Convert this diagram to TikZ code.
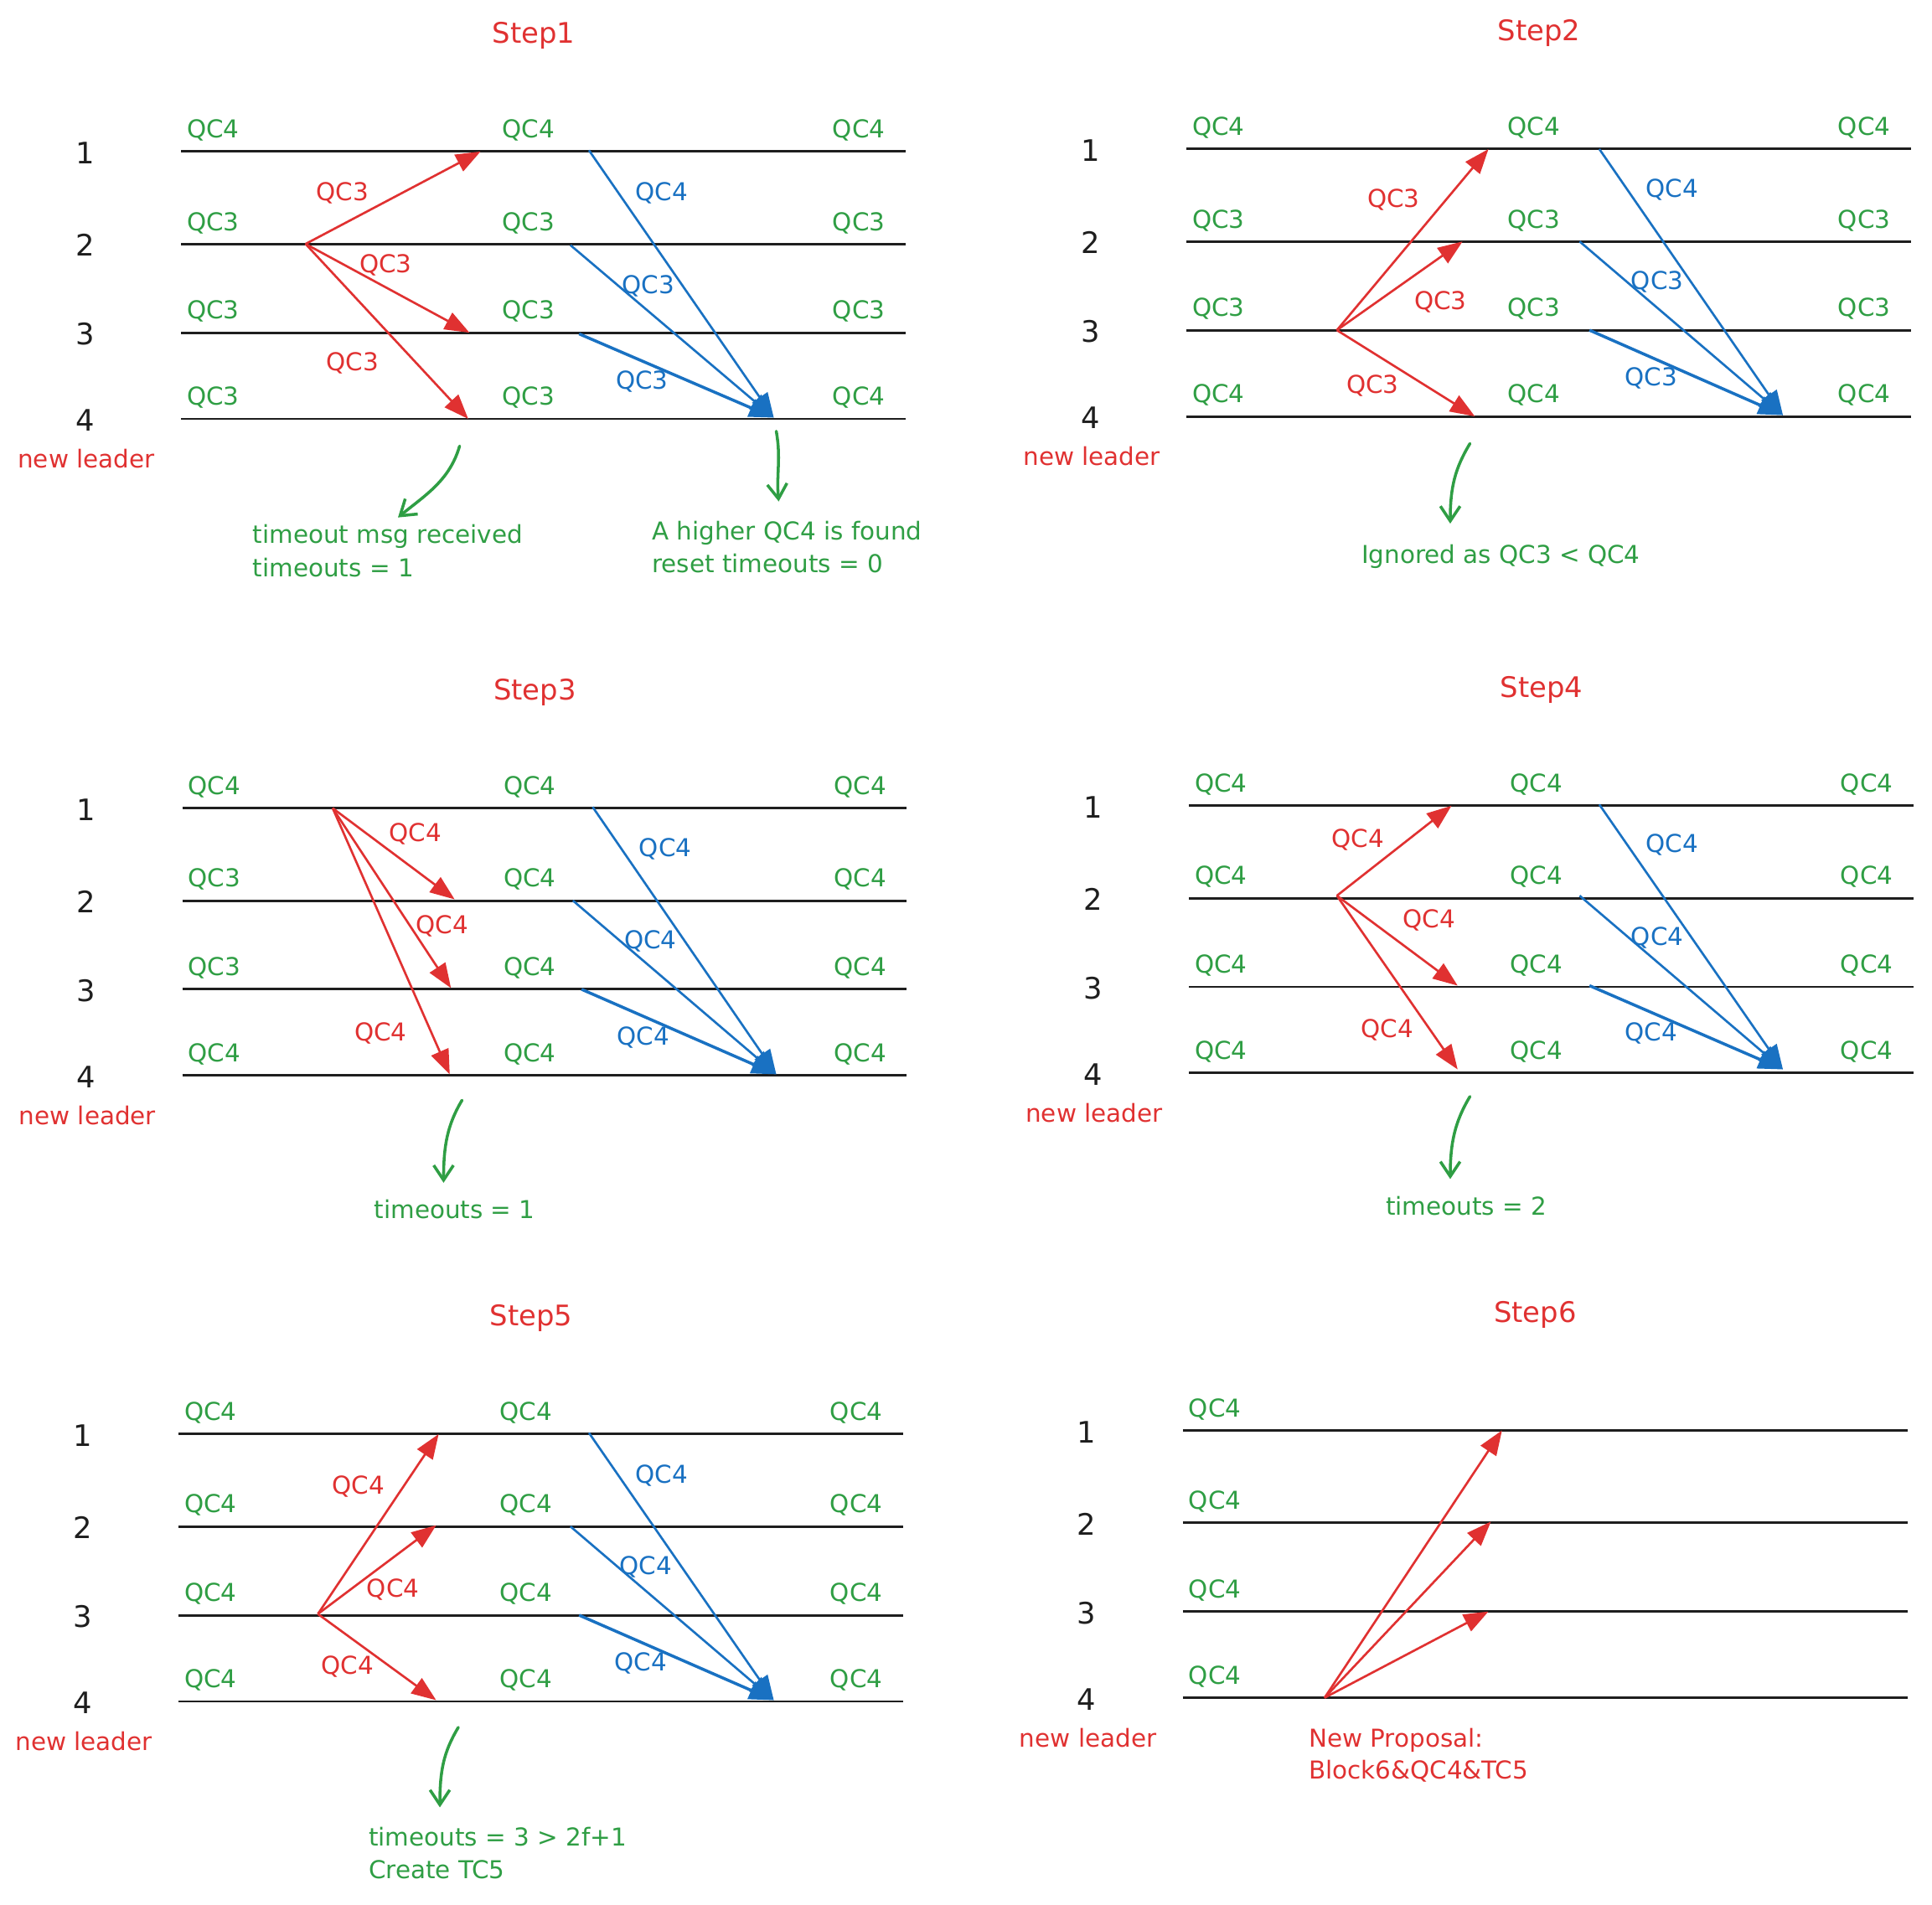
\documentclass[tikz,border=0pt]{standalone}
\usepackage{fontspec}
\setmainfont{DejaVu Sans}
\usetikzlibrary{arrows.meta}

\definecolor{stepred}{HTML}{E03131}
\definecolor{stepgreen}{HTML}{2F9E44}
\definecolor{stepblue}{HTML}{1971C2}
\definecolor{inkblack}{HTML}{1E1E1E}

\tikzset{
  lane/.style={draw=inkblack, line width=2pt},
  rownum/.style={text=inkblack, font=\fontsize{24}{28}\selectfont, inner sep=0pt, anchor=base},
  titletext/.style={text=stepred, font=\fontsize{23}{28}\selectfont, inner sep=0pt, anchor=base},
  leadertext/.style={text=stepred, font=\fontsize{20}{24}\selectfont, inner sep=0pt, anchor=base},
  qctext/.style={text=stepgreen, font=\fontsize{20}{24}\selectfont, inner sep=0pt, anchor=base},
  redtext/.style={text=stepred, font=\fontsize{20}{24}\selectfont, inner sep=0pt, anchor=base},
  bluetext/.style={text=stepblue, font=\fontsize{20}{24}\selectfont, inner sep=0pt, anchor=base},
  redmsg/.style={draw=stepred, line width=1.8pt, -{Triangle[length=20pt,width=15pt]}},
  bluemsg/.style={draw=stepblue, line width=1.8pt, -{Triangle[length=20pt,width=15pt]}},
  notearrow/.style={draw=stepgreen, line width=2.4pt, line cap=round, -{Straight Barb[length=12pt,width=16pt]}},
  notetext/.style={text=stepgreen, font=\fontsize{20}{27}\selectfont, inner sep=0pt, align=left, anchor=base west},
  proposaltext/.style={text=stepred, font=\fontsize{20}{26}\selectfont, inner sep=0pt, align=left, anchor=base west},
}

% title, four lanes, replica numbers, leader tag
\newcommand{\stepframe}[1]{%
  \node[titletext] (title) at (286,-88) {#1};
  \foreach \y/\n in {0/1,75/2,147/3,217/4}{
    \draw[lane] (0,\y) coordinate (w\n) -- (588,\y) coordinate (e\n);
    \node[rownum] (row\n) at (-78,\y+10) {\n};
  }
  \node[leadertext] (leader) at (-77,257) {new leader};
}

% QC held by each replica: before, during, after
\newcommand{\qcrows}[1]{%
  \foreach \y/\a/\b/\c [count=\i] in {#1}{
    \node[qctext] (qa\i) at (26,\y-11) {\a};
    \node[qctext] (qb\i) at (282,\y-11) {\b};
    \node[qctext] (qc\i) at (550,\y-11) {\c};
  }
}

\begin{document}
\begin{tikzpicture}[x=1pt,y=-1pt]
  \useasboundingbox (0,0) rectangle (1568,1546);

  % Step1
  \begin{scope}[shift={(147,123)}, name prefix=s1-]
    \stepframe{Step1}
    \qcrows{0/QC4/QC4/QC4, 75/QC3/QC3/QC3, 147/QC3/QC3/QC3, 217/QC3/QC3/QC4}
    % timeout from 2
    \coordinate (src) at (101,75);
    \coordinate (to1) at (243,0);
    \coordinate (to3) at (234,147);
    \coordinate (to4) at (233,217);
    \draw[redmsg] (src) -- (to1);
    \draw[redmsg] (src) -- (to3);
    \draw[redmsg] (src) -- (to4);
    \node[redtext] (m1) at (131,40) {QC3};
    \node[redtext] (m3) at (166,98) {QC3};
    \node[redtext] (m4) at (139,178) {QC3};
    % others to the new leader
    \coordinate (from1) at (331,-1);
    \coordinate (from2) at (316,76);
    \coordinate (from3) at (323,148);
    \coordinate (lead) at (481,216);
    \draw[bluemsg] (from1) -- (lead);
    \draw[bluemsg] (from2) -- (lead);
    \draw[bluemsg, line width=2.4pt] (from3) -- (lead);
    \node[bluetext] (r1) at (390,40) {QC4};
    \node[bluetext] (r2) at (379,115) {QC3};
    \node[bluetext] (r3) at (374,193) {QC3};
    % notes
    \coordinate (na) at (226,239);
    \coordinate (naend) at (176,297);
    \draw[notearrow] (na) .. controls +(-8,28) and +(22,-18) .. (naend);
    \node[notetext] (notea) at (58,345) {timeout msg received\\timeouts = 1};
    \coordinate (nb) at (483,227);
    \coordinate (nbend) at (485,284);
    \draw[notearrow] (nb) .. controls +(4,22) and +(-2,-22) .. (nbend);
    \node[notetext] (noteb) at (382,342) {A higher QC4 is found\\reset timeouts = 0};
  \end{scope}

  % Step2
  \begin{scope}[shift={(963,121)}, name prefix=s2-]
    \stepframe{Step2}
    \qcrows{0/QC4/QC4/QC4, 75/QC3/QC3/QC3, 147/QC3/QC3/QC3, 217/QC4/QC4/QC4}
    \coordinate (src) at (122,147);
    \coordinate (to1) at (245,0);
    \coordinate (to2) at (224,75);
    \coordinate (to4) at (234,217);
    \draw[redmsg] (src) -- (to1);
    \draw[redmsg] (src) -- (to2);
    \draw[redmsg] (src) -- (to4);
    \node[redtext] (m1) at (168,47) {QC3};
    \node[redtext] (m2) at (206,130) {QC3};
    \node[redtext] (m4) at (151,198) {QC3};
    \coordinate (from1) at (335,0);
    \coordinate (from2) at (319,75);
    \coordinate (from3) at (327,147);
    \coordinate (lead) at (484,216);
    \draw[bluemsg] (from1) -- (lead);
    \draw[bluemsg] (from2) -- (lead);
    \draw[bluemsg, line width=2.4pt] (from3) -- (lead);
    \node[bluetext] (r1) at (394,39) {QC4};
    \node[bluetext] (r2) at (382,114) {QC3};
    \node[bluetext] (r3) at (377,192) {QC3};
    \coordinate (na) at (230,239);
    \coordinate (naend) at (214,304);
    \draw[notearrow] (na) .. controls +(-12,20) and +(0,-30) .. (naend);
    \node[qctext] (notea) at (255,336) {Ignored as QC3 < QC4};
  \end{scope}

  % Step3
  \begin{scope}[shift={(148,656)}, name prefix=s3-]
    \stepframe{Step3}
    \qcrows{0/QC4/QC4/QC4, 75/QC3/QC4/QC4, 147/QC3/QC4/QC4, 217/QC4/QC4/QC4}
    \coordinate (src) at (122,0);
    \coordinate (to2) at (221,74);
    \coordinate (to3) at (218,146);
    \coordinate (to4) at (217,216);
    \draw[redmsg] (src) -- (to2);
    \draw[redmsg] (src) -- (to3);
    \draw[redmsg] (src) -- (to4);
    \node[redtext] (m2) at (189,27) {QC4};
    \node[redtext] (m3) at (211,102) {QC4};
    \node[redtext] (m4) at (161,189) {QC4};
    \coordinate (from1) at (333,-1);
    \coordinate (from2) at (317,75);
    \coordinate (from3) at (324,147);
    \coordinate (lead) at (482,216);
    \draw[bluemsg] (from1) -- (lead);
    \draw[bluemsg] (from2) -- (lead);
    \draw[bluemsg, line width=2.4pt] (from3) -- (lead);
    \node[bluetext] (r1) at (392,39) {QC4};
    \node[bluetext] (r2) at (380,114) {QC4};
    \node[bluetext] (r3) at (374,192) {QC4};
    \coordinate (na) at (227,237);
    \coordinate (naend) at (212,304);
    \draw[notearrow] (na) .. controls +(-12,20) and +(0,-30) .. (naend);
    \node[qctext] (notea) at (221,333) {timeouts = 1};
  \end{scope}

  % Step4
  \begin{scope}[shift={(965,654)}, name prefix=s4-]
    \stepframe{Step4}
    \qcrows{0/QC4/QC4/QC4, 75/QC4/QC4/QC4, 147/QC4/QC4/QC4, 217/QC4/QC4/QC4}
    \coordinate (src) at (120,73);
    \coordinate (to1) at (213,0);
    \coordinate (to3) at (218,146);
    \coordinate (to4) at (218,214);
    \draw[redmsg] (src) -- (to1);
    \draw[redmsg] (src) -- (to3);
    \draw[redmsg] (src) -- (to4);
    \node[redtext] (m1) at (137,34) {QC4};
    \node[redtext] (m3) at (195,99) {QC4};
    \node[redtext] (m4) at (161,188) {QC4};
    \coordinate (from1) at (333,-1);
    \coordinate (from2) at (317,73);
    \coordinate (from3) at (325,146);
    \coordinate (lead) at (482,214);
    \draw[bluemsg] (from1) -- (lead);
    \draw[bluemsg] (from2) -- (lead);
    \draw[bluemsg, line width=2.4pt] (from3) -- (lead);
    \node[bluetext] (r1) at (392,38) {QC4};
    \node[bluetext] (r2) at (380,113) {QC4};
    \node[bluetext] (r3) at (375,191) {QC4};
    \coordinate (na) at (228,236);
    \coordinate (naend) at (212,303);
    \draw[notearrow] (na) .. controls +(-12,20) and +(0,-30) .. (naend);
    \node[qctext] (notea) at (225,332) {timeouts = 2};
  \end{scope}

  % Step5
  \begin{scope}[shift={(145,1164)}, name prefix=s5-]
    \stepframe{Step5}
    \qcrows{0/QC4/QC4/QC4, 75/QC4/QC4/QC4, 147/QC4/QC4/QC4, 217/QC4/QC4/QC4}
    \coordinate (src) at (113,146);
    \coordinate (to1) at (211,0);
    \coordinate (to2) at (209,74);
    \coordinate (to4) at (209,216);
    \draw[redmsg] (src) -- (to1);
    \draw[redmsg] (src) -- (to2);
    \draw[redmsg] (src) -- (to4);
    \node[redtext] (m1) at (146,49) {QC4};
    \node[redtext] (m2) at (174,132) {QC4};
    \node[redtext] (m4) at (137,195) {QC4};
    \coordinate (from1) at (333,-1);
    \coordinate (from2) at (318,75);
    \coordinate (from3) at (325,147);
    \coordinate (lead) at (483,216);
    \draw[bluemsg] (from1) -- (lead);
    \draw[bluemsg] (from2) -- (lead);
    \draw[bluemsg, line width=2.4pt] (from3) -- (lead);
    \node[bluetext] (r1) at (392,40) {QC4};
    \node[bluetext] (r2) at (379,114) {QC4};
    \node[bluetext] (r3) at (375,192) {QC4};
    \coordinate (na) at (227,238);
    \coordinate (naend) at (212,303);
    \draw[notearrow] (na) .. controls +(-12,20) and +(0,-30) .. (naend);
    \node[notetext] (notea) at (154,361) {timeouts = 3 > 2f+1\\Create TC5};
  \end{scope}

  % Step6
  \begin{scope}[shift={(960,1161)}, name prefix=s6-]
    \stepframe{Step6}
    \foreach \y [count=\i] in {0,75,147,217}
      \node[qctext] (qa\i) at (26,\y-11) {QC4};
    % proposal from the new leader
    \coordinate (src) at (115,217);
    \coordinate (to1) at (259,0);
    \coordinate (to2) at (250,74);
    \coordinate (to3) at (248,147);
    \draw[redmsg] (src) -- (to1);
    \draw[redmsg] (src) -- (to2);
    \draw[redmsg] (src) -- (to3);
    \node[proposaltext] (prop) at (102,283) {New Proposal:\\Block6\&QC4\&TC5};
  \end{scope}
\end{tikzpicture}
\end{document}
